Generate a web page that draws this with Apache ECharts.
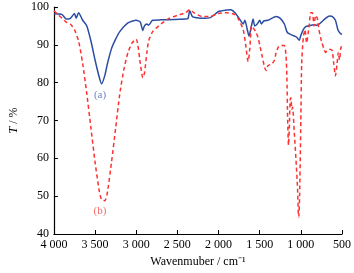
<!DOCTYPE html>
<html>
<head>
<meta charset="utf-8">
<script src="https://cdn.jsdelivr.net/npm/echarts@6/dist/echarts.min.js"></script>
<style>
  html, body { margin: 0; padding: 0; background: #fff; }
  #chart { width: 354px; height: 273px; }
</style>
</head>
<body>
<div id="chart"></div>
<script>
// spectrum (a): wavenumber / transmittance
var waveA = [4000, 3900, 3850, 3800, 3750, 3730, 3700, 3650, 3600, 3550, 3500, 3450, 3420, 3380, 3350, 3300, 3250, 3200, 3100, 3000, 2950, 2920, 2900, 2870, 2850, 2800, 2700, 2400, 2370, 2350, 2320, 2300, 2200, 2100, 2000, 1900, 1850, 1800, 1750, 1700, 1680, 1650, 1630, 1600, 1580, 1560, 1530, 1500, 1480, 1450, 1400, 1300, 1250, 1200, 1170, 1150, 1100, 1050, 1020, 1000, 970, 940, 900, 850, 800, 750, 700, 650, 620, 580, 550, 520, 500];
var transA = [98.2, 98, 96.8, 97, 98.3, 97, 98.5, 96.5, 95, 91, 86, 81.5, 79.7, 82, 85, 89, 91.5, 93.5, 95.8, 96.5, 96, 93.8, 95, 95.5, 95.2, 96.5, 96.6, 96.8, 97, 99, 97.5, 97.3, 97, 97.2, 98.8, 99.2, 99.3, 98.5, 97, 95.5, 96.5, 94, 92.3, 95, 96.8, 95, 95.5, 96.5, 95.5, 96.3, 96.5, 97.5, 97, 95.5, 93.5, 93, 92.5, 92, 91.2, 92.5, 94, 94.8, 95, 95.3, 95.2, 96, 97, 97.6, 97.5, 96.5, 94, 93, 92.8];

// spectrum (b)
var waveB = [4000, 3950, 3900, 3850, 3800, 3750, 3700, 3650, 3600, 3550, 3500, 3450, 3420, 3380, 3350, 3300, 3250, 3200, 3150, 3100, 3050, 3000, 2980, 2950, 2920, 2900, 2870, 2850, 2800, 2700, 2600, 2500, 2400, 2350, 2300, 2200, 2100, 2000, 1900, 1800, 1750, 1700, 1670, 1650, 1640, 1620, 1600, 1580, 1550, 1520, 1500, 1470, 1440, 1420, 1400, 1350, 1320, 1300, 1270, 1250, 1200, 1180, 1170, 1160, 1150, 1140, 1130, 1120, 1110, 1100, 1080, 1060, 1040, 1030, 1025, 1015, 1000, 990, 970, 950, 930, 900, 880, 860, 840, 820, 800, 780, 750, 720, 700, 680, 650, 620, 600, 580, 560, 545, 530, 515, 500];
var transB = [99, 98, 97, 96, 95.5, 94, 91, 85, 77, 68, 59, 51.5, 49, 48.8, 51, 59, 68, 77, 83.5, 88, 90.5, 91.5, 90, 85, 81.3, 82.5, 88, 91, 93.5, 95.5, 97, 97.8, 98.5, 99.3, 98.5, 97.5, 97.5, 98.3, 98.5, 98, 96.5, 94, 90, 86.5, 85.6, 89, 95, 94.5, 93.5, 92, 90, 87, 84, 83.2, 84.5, 85, 86, 88, 89.5, 89.8, 89.8, 87, 82, 70, 63.5, 68, 75.5, 76, 73, 73.5, 67, 60, 52, 45, 44.5, 50, 70, 85, 92, 94, 90.5, 95, 98.5, 98.5, 95, 97.8, 97, 94, 91, 89, 88, 88.5, 88.8, 88.5, 85, 81.8, 85, 88, 86, 89, 90];

var xTicks = [500, 4000, 500];   // min, max, step
var yTicks = [40, 100, 10];

function pairs(xs, ys) {
  return xs.map(function (x, i) { return [x, ys[i]]; });
}

var serif = 'Liberation Serif';

var myChart = echarts.init(document.getElementById('chart'));
var option = {
  animation: false,
  textStyle: { fontFamily: serif },
  grid: { left: 39, right: 12, top: 7, bottom: 37 },
  xAxis: {
    type: 'value',
    inverse: true,
    min: xTicks[0],
    max: xTicks[1],
    interval: xTicks[2],
    name: 'Wavenmuber / cm\u207B\u00B9',
    nameLocation: 'middle',
    nameGap: 22,
    nameTextStyle: { fontFamily: serif, fontSize: 12, color: '#000' },
    splitLine: { show: false },
    axisLine: { lineStyle: { color: '#000', width: 1.2 } },
    axisTick: { inside: true, length: 4, lineStyle: { color: '#000' } },
    axisLabel: {
      fontFamily: serif, fontSize: 12, color: '#000', margin: 5,
      formatter: function (v) {
        return v >= 1000 ? Math.floor(v / 1000) + ' ' + String(v % 1000).padStart(3, '0') : String(v);
      }
    }
  },
  yAxis: {
    type: 'value',
    min: yTicks[0],
    max: yTicks[1],
    interval: yTicks[2],
    name: '{i|T} / %',
    nameLocation: 'middle',
    nameGap: 30,
    nameTextStyle: {
      fontFamily: serif, fontSize: 12, color: '#000',
      rich: { i: { fontStyle: 'italic', fontFamily: serif, fontSize: 12, color: '#000' } }
    },
    splitLine: { show: false },
    axisLine: { show: true, lineStyle: { color: '#000', width: 1.2 } },
    axisTick: { show: true, inside: true, length: 4, lineStyle: { color: '#000' } },
    axisLabel: { fontFamily: serif, fontSize: 12, color: '#000', margin: 5 }
  },
  series: [
    {
      name: '(a)',
      type: 'line',
      data: pairs(waveA, transA),
      showSymbol: false,
      smooth: 0.2,
      lineStyle: { color: '#2a4da3', width: 1.5 },
      markPoint: {
        symbol: 'circle', symbolSize: 0,
        label: { show: true, formatter: '(a)', color: '#6f83c6', fontFamily: serif, fontSize: 11, position: 'inside' },
        data: [{ coord: [3440, 76.6] }]
      }
    },
    {
      name: '(b)',
      type: 'line',
      data: pairs(waveB, transB),
      showSymbol: false,
      smooth: 0.2,
      lineStyle: { color: '#ff3030', width: 1.5, type: [4, 3] },
      markPoint: {
        symbol: 'circle', symbolSize: 0,
        label: { show: true, formatter: '(b)', color: '#f46a6a', fontFamily: serif, fontSize: 11, position: 'inside' },
        data: [{ coord: [3440, 46.1] }]
      }
    }
  ]
};
myChart.setOption(option);
</script>
</body>
</html>
